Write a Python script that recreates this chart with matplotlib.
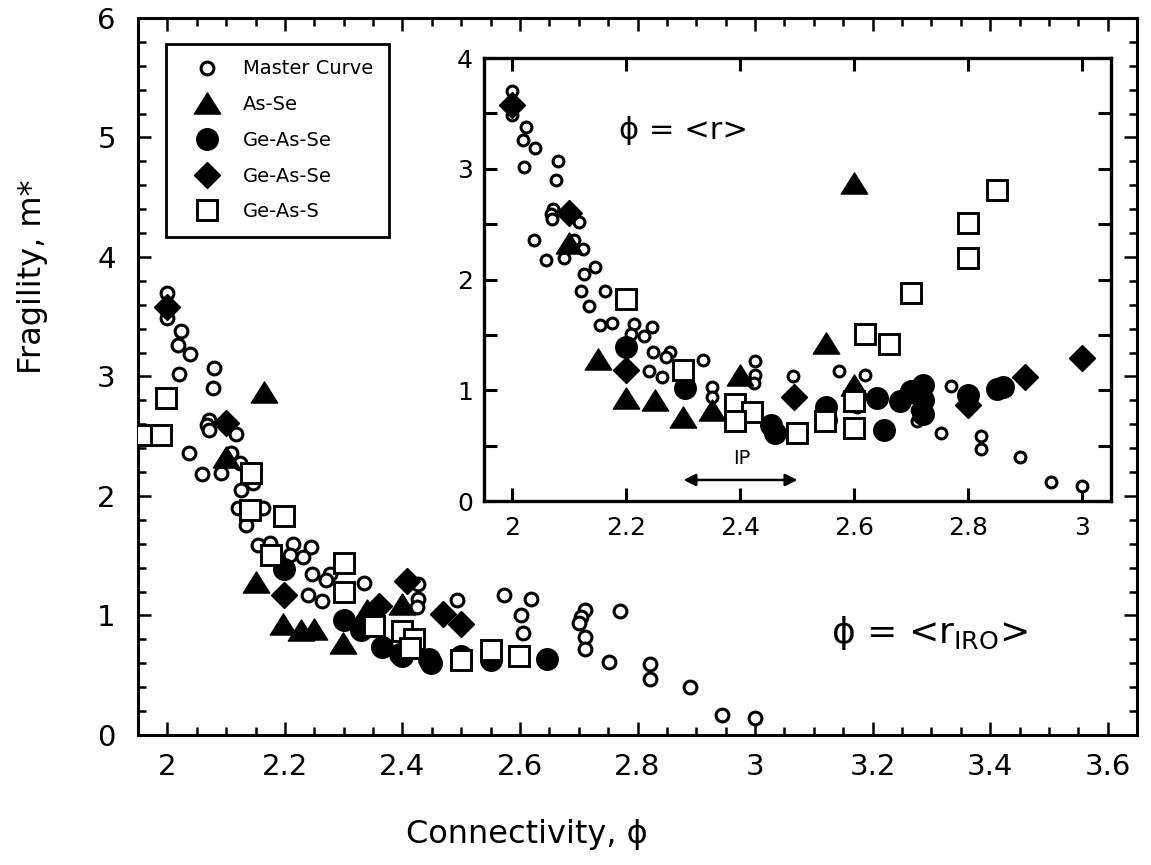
import numpy as np
import matplotlib.pyplot as plt
from matplotlib.path import Path
from matplotlib.ticker import MultipleLocator, FuncFormatter

# ---- data ----
# master curve, identical in both panels
master_x = [2.0, 2.0, 2.023, 2.018, 2.039, 2.020, 2.079, 2.077, 2.071, 2.068,
            2.07, 2.117, 2.037, 2.059, 2.091, 2.108, 2.123, 2.125, 2.145, 2.12,
            2.162, 2.134, 2.154, 2.174, 2.213, 2.245, 2.208, 2.23, 2.246, 2.276,
            2.27, 2.24, 2.263, 2.335, 2.35, 2.35, 2.426, 2.426, 2.424, 2.492,
            2.572, 2.618, 2.602, 2.605, 2.71, 2.704, 2.701, 2.71, 2.71, 2.77,
            2.751, 2.822, 2.822, 2.89, 2.944, 3.0]
master_y = [3.70, 3.49, 3.38, 3.26, 3.19, 3.02, 3.07, 2.90, 2.64, 2.59,
            2.55, 2.52, 2.36, 2.18, 2.19, 2.36, 2.28, 2.05, 2.11, 1.90,
            1.90, 1.76, 1.59, 1.61, 1.60, 1.57, 1.51, 1.49, 1.35, 1.35,
            1.30, 1.17, 1.12, 1.27, 1.03, 0.94, 1.26, 1.14, 1.07, 1.13,
            1.17, 1.14, 1.00, 0.85, 1.05, 0.99, 0.94, 0.82, 0.72, 1.04,
            0.61, 0.59, 0.47, 0.40, 0.17, 0.14]

# main panel, phi = <r_IRO>
asse_x = [2.165, 2.10, 2.151, 2.196, 2.228, 2.25, 2.298, 2.34, 2.40]
asse_y = [2.87, 2.33, 1.28, 0.93, 0.88, 0.89, 0.77, 1.05, 1.10]
gease_c_x = [2.199, 2.30, 2.33, 2.366, 2.395, 2.40, 2.446, 2.449, 2.50, 2.551, 2.646]
gease_c_y = [1.39, 0.96, 0.88, 0.74, 0.68, 0.66, 0.64, 0.60, 0.66, 0.63, 0.64]
gease_d_x = [2.0, 2.1, 2.199, 2.36, 2.407, 2.469, 2.50]
gease_d_y = [3.58, 2.61, 1.17, 1.08, 1.29, 1.01, 0.93]
geass_x = [1.96, 1.989, 1.997, 2.142, 2.14, 2.199, 2.176, 2.301, 2.30, 2.352,
           2.40, 2.42, 2.412, 2.50, 2.551, 2.599]
geass_y = [2.51, 2.51, 2.82, 2.19, 1.88, 1.83, 1.51, 1.44, 1.20, 0.91,
           0.87, 0.80, 0.73, 0.63, 0.71, 0.66]

# inset, phi = <r>
in_asse_x = [2.10, 2.15, 2.20, 2.25, 2.30, 2.35, 2.40, 2.55, 2.60, 2.60]
in_asse_y = [2.33, 1.28, 0.93, 0.91, 0.76, 0.82, 1.14, 1.43, 2.87, 1.05]
in_gease_c_x = [2.20, 2.303, 2.453, 2.46, 2.55, 2.55, 2.64, 2.651, 2.68, 2.70,
                2.72, 2.72, 2.72, 2.80, 2.85, 2.86]
in_gease_c_y = [1.39, 1.02, 0.69, 0.61, 0.73, 0.85, 0.93, 0.64, 0.90, 0.99,
                1.05, 0.91, 0.79, 0.96, 1.01, 1.03]
in_gease_d_x = [2.0, 2.1, 2.2, 2.494, 2.80, 2.90, 3.0]
in_gease_d_y = [3.58, 2.60, 1.18, 0.94, 0.87, 1.12, 1.29]
in_geass_x = [2.20, 2.30, 2.39, 2.42, 2.39, 2.50, 2.549, 2.60, 2.60, 2.619,
              2.66, 2.70, 2.80, 2.80, 2.85]
in_geass_y = [1.82, 1.18, 0.88, 0.80, 0.72, 0.61, 0.72, 0.66, 0.90, 1.51,
              1.42, 1.88, 2.19, 2.51, 2.81]

labels = ['Master Curve', 'As-Se', 'Ge-As-Se', 'Ge-As-Se', 'Ge-As-S']

plt.rcParams['font.family'] = ['DejaVu Sans']

tri = Path([(-1, -0.8), (1, -0.8), (0, 0.8), (-1, -0.8)],
           [Path.MOVETO, Path.LINETO, Path.LINETO, Path.CLOSEPOLY])
fmt = FuncFormatter(lambda v, p: '%g' % round(v, 2))


def draw(ax, data, small):
    mc = 7.8 if small else 9.2
    hs = []
    hs.append(ax.plot(master_x, master_y, 'o', ms=mc, mfc='white', mec='black',
                      mew=2.2, zorder=2)[0])
    hs.append(ax.plot(data[0][0], data[0][1], ls='none', marker=tri, ms=19,
                      color='black', zorder=3)[0])
    hs.append(ax.plot(data[1][0], data[1][1], 'o', ms=15.5, color='black', zorder=3)[0])
    hs.append(ax.plot(data[2][0], data[2][1], 'D', ms=13.5, color='black', zorder=4)[0])
    hs.append(ax.plot(data[3][0], data[3][1], 's', ms=14, mfc='white', mec='black',
                      mew=2.1, zorder=5)[0])
    return hs


fig = plt.figure(figsize=(11.51, 8.65), dpi=100)
ax = fig.add_axes([0.1199, 0.1503, 0.868, 0.8289])
hs = draw(ax, [(asse_x, asse_y), (gease_c_x, gease_c_y), (gease_d_x, gease_d_y),
               (geass_x, geass_y)], False)
ax.set_xlim(1.95, 3.65)
ax.set_ylim(0, 6)
ax.xaxis.set_major_locator(MultipleLocator(0.2))
ax.xaxis.set_minor_locator(MultipleLocator(0.05))
ax.yaxis.set_major_locator(MultipleLocator(1))
ax.yaxis.set_minor_locator(MultipleLocator(0.2))
ax.xaxis.set_major_formatter(fmt)
ax.tick_params(which='both', direction='in', top=True, right=True, width=1.8)
ax.tick_params(which='major', length=9.5, labelsize=21)
ax.tick_params(which='minor', length=5.5)
ax.tick_params(axis='x', which='major', pad=13)
ax.tick_params(axis='y', which='major', pad=16)
for s in ax.spines.values():
    s.set_linewidth(2.2)

leg = ax.legend(hs, labels, loc='upper left', bbox_to_anchor=(0.028, 0.964),
                fancybox=False, edgecolor='black', fontsize=14, framealpha=1,
                borderpad=0.8, handlelength=2.6, handletextpad=0.55,
                labelspacing=0.86, borderaxespad=0)
leg.get_frame().set_linewidth(2)

ax.text(3.13, 0.85, 'ϕ = <r$_{\\mathregular{IRO}}$>', fontsize=26, va='center')

fig.text(0.458, 0.035, 'Connectivity, ϕ', fontsize=23, ha='center', va='center')
fig.text(0.028, 0.68, 'Fragility, m*', fontsize=23, ha='center', va='center',
         rotation=90)

# inset
ins = fig.add_axes([0.4205, 0.4208, 0.5447, 0.5121])
draw(ins, [(in_asse_x, in_asse_y), (in_gease_c_x, in_gease_c_y),
           (in_gease_d_x, in_gease_d_y), (in_geass_x, in_geass_y)], True)
ins.set_xlim(1.95, 3.05)
ins.set_ylim(0, 4)
ins.xaxis.set_major_locator(MultipleLocator(0.2))
ins.yaxis.set_major_locator(MultipleLocator(1))
ins.yaxis.set_minor_locator(MultipleLocator(0.5))
ins.xaxis.set_major_formatter(fmt)
ins.tick_params(which='both', direction='in', top=True, right=True, width=2.2,
                length=9.5)
ins.tick_params(which='major', labelsize=18)
ins.tick_params(axis='x', pad=11)
ins.tick_params(axis='y', pad=8)
for s in ins.spines.values():
    s.set_linewidth(2.4)

ins.text(2.186, 3.35, 'ϕ = <r>', fontsize=22, va='center')
ins.annotate('', xy=(2.3, 0.19), xytext=(2.5, 0.19),
             arrowprops=dict(arrowstyle='<|-|>', color='black', lw=1.8,
                             mutation_scale=18, shrinkA=0, shrinkB=0))
ins.text(2.403, 0.385, 'IP', fontsize=14, ha='center', va='center')

fig.savefig('out.png', dpi=100)
